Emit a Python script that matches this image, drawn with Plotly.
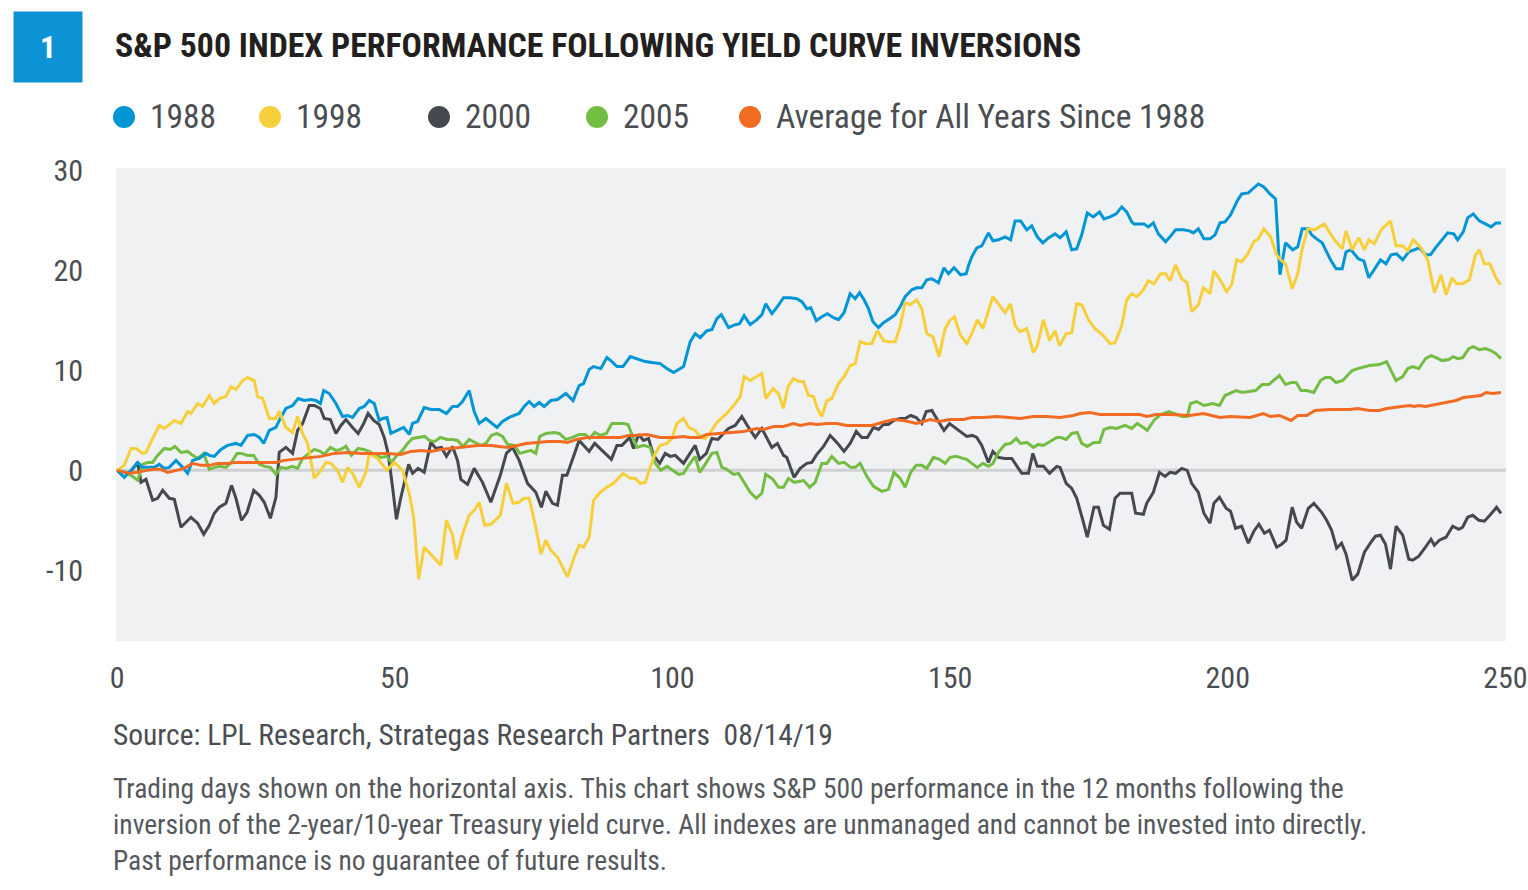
import plotly.graph_objects as go

# ---------------- data ----------------
days_1988 = [0,1.3,2.5,3.7,4.6,5.8,6.7,7.6,8.5,9.4,10.6,11.8,12.7,13.6,14.8,16.0,16.6,17.5,18.7,19.9,21.4,22.3,23.5,24.7,25.6,26.4,27.4,28.6,29.2,30.4,31.6,32.6,33.7,34.9,35.8,36.6,37.2,38.2,39.4,40.6,41.5,42.4,43.6,44.5,45.4,46.3,47.2,47.8,48.6,49.3,50.5,51.6,52.6,53.2,54.1,55.3,56.5,58.0,59.3,60.4,61.3,62.2,63.4,64.3,65.2,66.4,67.3,68.4,69.4,70.6,71.5,72.4,73.3,74.2,75.1,76.0,76.9,78.1,79.3,80.8,82.1,83.2,84.0,85.0,85.8,87.1,88.2,89.1,90.0,91.1,92.4,93.6,95.1,96.3,97.8,99.0,100.2,102.0,102.6,103.2,104.1,105.0,106.2,107.1,108.0,108.8,110.1,111.3,112.1,112.9,114.0,115.2,116.1,116.8,117.9,118.9,120.0,121.2,122.4,123.3,124.2,124.9,125.9,126.9,127.9,129.0,129.9,130.9,132.0,132.9,133.7,134.5,135.3,136.1,137.1,138.0,139.1,140.1,141.0,141.9,143.1,144.0,144.9,145.8,146.7,147.9,148.9,149.7,150.7,151.9,152.9,153.3,153.9,154.8,155.7,156.9,157.7,158.7,159.9,160.9,161.7,162.7,163.8,164.7,165.7,166.7,167.7,168.9,169.8,170.9,171.9,172.8,173.7,174.7,175.8,176.9,177.7,178.8,179.9,180.9,181.8,182.7,183.1,184.2,184.9,185.7,186.6,187.5,188.8,189.6,190.6,192.0,193.1,193.8,194.7,195.7,196.8,197.7,198.6,199.5,200.5,201.7,202.5,203.7,204.7,205.5,206.5,207.6,208.6,209.4,210.4,211.7,212.6,213.4,214.5,215.1,216.0,217.0,217.8,218.5,219.5,220.6,221.3,222.2,223.5,224.5,225.4,226.4,227.5,228.5,229.4,230.4,231.5,232.6,233.6,234.5,235.6,236.5,237.4,238.6,239.6,240.7,241.4,242.4,243.2,244.2,245.3,246.4,247.4,248.3,249.2]
vals_1988 = [0,-0.7,0,0.8,0.3,0.3,0.3,0.6,0.2,0.3,1.0,0.3,-0.3,1.0,1.2,1.7,1.5,1.4,2.1,2.5,2.7,2.5,3.5,3.6,3.3,2.7,4.0,4.3,5.0,6.2,6.5,7.2,7.0,7.1,7.0,6.7,8.0,7.7,6.7,5.4,5.5,5.3,6.2,6.4,7.0,6.7,5.0,5.2,5.3,3.7,4.0,4.3,3.6,4.7,4.9,6.3,6.1,6.1,5.7,6.4,6.4,6.9,8.0,5.9,4.7,5.2,4.8,4.3,4.9,5.3,5.5,5.7,6.4,6.9,6.4,6.8,6.4,7.0,7.1,7.7,7.0,8.5,8.7,10.1,10.4,10.2,11.3,10.9,10.4,10.4,11.4,11.2,10.9,10.8,10.7,10.2,9.8,10.4,11.7,12.9,13.7,13.3,14.0,14.1,15.2,15.6,14.3,14.6,14.7,15.5,14.6,15.1,15.6,16.7,15.7,16.4,17.3,17.3,17.2,16.9,16.2,16.3,15.0,15.4,15.7,15.3,15.1,15.8,17.7,17.2,17.8,17.1,16.2,14.9,14.3,14.8,15.2,15.6,16.4,17.4,18.1,18.3,18.3,19.1,19.2,18.8,20.3,19.7,20.3,19.6,19.7,20.5,21.4,22.3,22.5,23.8,23.0,23.1,23.4,23.1,25.0,25.0,24.1,24.5,23.4,22.8,23.3,23.7,23.3,23.9,22.1,22.2,23.6,25.8,25.4,25.9,25.2,25.4,25.7,26.4,25.9,24.9,24.7,24.7,24.7,24.4,24.8,23.7,22.9,23.4,24.1,24.1,24.0,23.8,24.2,23.2,23.2,23.6,24.8,24.9,25.6,27.0,27.7,27.8,28.3,28.7,28.4,27.7,27.2,19.6,22.8,22.1,22.4,24.2,24.2,23.6,23.2,22.8,21.9,21.1,20.2,20.2,21.9,22.1,21.2,21.0,19.3,20.1,21.1,20.7,21.6,21.7,21.1,21.9,22.1,22.3,21.6,21.6,22.3,23.1,23.8,23.7,23.1,23.9,25.3,25.7,25.0,24.7,24.4,24.8,24.8]

days_1998 = [0,1.3,2.5,3.4,4.6,5.2,6.4,7.6,8.5,10.3,11.5,12.7,13.3,14.5,15.4,16.6,17.5,18.4,19.6,20.5,21.4,22.6,23.5,24.7,25.3,26.2,27.4,28.6,29.2,30.4,31.6,32.5,33.4,34.3,35.5,36.7,37.6,38.5,39.7,40.6,41.5,42.4,43.6,44.8,45.4,46.9,48.6,49.9,51.4,52.6,53.4,54.3,55.3,56.5,58.3,59.3,60.4,61.1,62.2,63.4,64.3,65.2,66.2,67.3,69.0,70.1,71.3,72.4,73.2,74.2,75.4,76.3,77.2,78.1,79.3,81.1,82.3,83.2,84.0,85.0,85.8,87.0,88.2,89.4,90.3,91.1,92.4,93.3,94.2,95.1,96.0,96.9,97.8,99.0,99.9,100.8,102.0,102.9,104.1,105.0,105.9,106.8,108.0,109.8,111.3,112.2,112.9,114.0,116.1,116.8,118.1,119.1,120.0,120.8,121.8,122.7,123.6,124.5,125.4,126.1,126.9,127.8,128.7,129.9,130.9,132.0,132.9,133.8,134.7,135.9,136.9,138.0,138.9,140.1,141.0,141.9,142.8,144.0,144.9,145.8,146.9,148.0,149.1,149.9,150.8,151.8,153.0,153.9,154.9,155.9,157.7,158.7,159.9,160.9,161.7,162.6,163.8,165.0,165.7,166.8,167.9,168.9,169.7,170.9,171.9,172.8,173.7,174.9,176.1,177.6,178.8,179.7,180.9,181.8,182.7,183.6,184.8,185.7,186.7,187.9,188.8,189.6,190.6,191.7,192.7,193.5,194.7,195.6,196.8,197.5,198.5,199.8,200.7,201.6,202.5,203.5,204.7,205.5,206.5,207.7,208.8,209.5,210.4,211.6,212.6,213.4,214.4,215.6,217.4,218.6,219.5,220.6,221.3,222.4,223.6,224.6,225.4,226.4,227.6,229.3,230.3,231.5,232.4,233.4,234.8,236.0,237.2,238.4,239.3,240.4,241.2,242.3,243.5,244.6,245.3,246.2,247.2,248.2,249.1]
vals_1998 = [0,0.5,2.2,2.2,1.7,1.8,3.2,4.5,4.2,5.0,4.7,5.9,5.7,6.7,6.4,7.5,6.7,7.2,7.4,8.4,8.1,9.0,9.3,9.0,7.4,7.2,5.2,5.2,5.9,4.3,3.8,5.4,3.7,2.7,-0.8,0,0.8,0.7,0,-1.2,0.3,-0.3,-1.7,-0.2,1.7,1.2,0,0.8,0,-2.3,-4.7,-10.9,-7.7,-8.4,-9.5,-5.0,-6.5,-8.9,-6.4,-4.5,-4.0,-3.2,-5.5,-5.4,-4.5,-1.3,-3.3,-3.2,-2.8,-2.8,-5.7,-8.4,-7.0,-8.0,-8.7,-10.7,-8.7,-7.5,-7.7,-6.7,-3.0,-2.2,-1.7,-1.3,-0.8,-0.3,-0.8,-0.8,-1.3,-1.2,0.3,1.7,2.5,2.7,3.2,4.7,5.2,4.3,4.0,3.3,3.2,3.8,4.8,5.7,6.7,7.4,9.4,9.0,9.7,7.2,8.2,7.7,6.2,8.4,9.2,8.9,8.9,7.5,7.4,6.2,5.4,7.0,7.2,8.7,9.4,10.5,10.7,12.9,12.7,12.7,14.0,13.0,12.9,12.9,14.4,16.8,16.6,17.1,16.2,13.7,13.4,11.4,14.2,15.0,15.4,13.6,12.7,13.7,15.1,14.2,17.4,16.7,15.8,16.7,14.5,13.9,14.2,11.8,12.5,15.1,13.0,14.0,12.5,13.7,13.8,16.7,16.6,15.1,14.2,13.5,12.7,12.8,14.5,17.1,17.7,17.4,18.1,19.0,18.7,19.7,19.7,19.0,20.6,19.2,18.8,15.9,16.6,18.3,17.7,20.0,19.2,17.9,18.6,21.1,20.9,21.6,22.9,23.2,24.2,23.4,21.6,21.1,20.7,18.2,19.7,22.2,24.2,24.1,24.7,23.6,22.9,22.2,24.0,22.1,23.3,22.1,23.1,22.7,24.1,25.0,22.5,22.5,22.0,23.1,22.3,21.1,17.8,19.6,17.6,19.3,18.7,18.7,19.1,21.6,22.1,20.7,20.7,19.4,18.6]

days_2000 = [0,2.2,3.7,4.3,5.2,6.4,7.3,8.2,9.4,10.3,11.5,12.4,13.3,14.5,15.6,16.6,17.5,18.4,19.6,20.6,21.4,22.4,23.4,24.6,25.6,26.5,27.6,28.6,29.2,30.4,31.6,32.5,33.4,34.6,35.5,36.6,37.3,38.4,39.4,40.3,41.2,42.4,43.4,44.4,45.2,46.2,47.2,48.1,48.8,49.6,50.3,51.1,51.8,52.5,53.2,54.2,55.3,56.0,56.5,57.4,58.4,59.3,60.4,61.3,61.9,63.1,64.3,65.8,67.3,69.0,70.1,71.2,72.4,73.9,75.4,76.4,77.2,78.4,79.3,80.2,81.0,83.2,85.0,86.0,87.7,89.0,90.0,90.9,92.3,93.0,93.9,94.8,95.7,96.6,97.7,98.7,99.6,100.5,102.0,103.2,104.1,104.9,106.1,107.1,108.2,109.2,110.1,111.3,112.5,113.7,114.9,116.1,117.0,117.9,118.9,120.0,120.6,121.9,123.0,124.2,125.1,126.0,127.2,128.4,129.6,130.9,132.0,133.1,134.1,135.1,136.2,137.1,138.0,138.9,139.8,141.0,141.9,142.9,143.9,144.9,145.7,146.7,147.9,148.9,149.9,150.9,152.1,153.0,154.0,154.8,155.7,156.9,157.7,158.7,159.9,161.1,162.3,162.9,164.1,164.9,165.7,166.8,167.9,169.2,169.8,170.9,171.9,172.8,173.9,174.7,175.9,176.7,177.6,178.7,179.7,180.6,181.7,182.7,183.4,184.8,185.4,186.6,187.7,188.7,189.6,190.6,191.7,192.7,193.5,194.7,195.7,196.8,197.5,198.5,199.7,200.5,201.4,202.5,203.7,204.7,205.6,206.6,207.5,208.8,209.7,210.5,211.6,212.4,213.3,214.5,215.5,216.9,217.8,218.7,219.6,220.5,221.3,222.4,223.4,224.6,225.8,226.6,227.5,228.4,229.3,230.3,231.5,232.6,233.3,234.4,235.6,236.6,237.2,238.1,239.3,240.5,241.6,242.3,243.2,244.1,245.2,246.2,247.2,248.4,249.2]
vals_2000 = [0,-0.3,0.8,-1.2,-0.9,-3.0,-2.8,-2.0,-2.8,-2.9,-5.7,-5.2,-4.7,-5.3,-6.4,-5.5,-4.3,-3.7,-3.3,-1.5,-2.8,-5.0,-4.2,-2.0,-2.5,-3.2,-4.8,-2.7,1.8,2.3,1.7,4.0,4.7,6.5,6.5,6.2,5.2,5.1,3.7,4.5,5.1,4.3,3.7,4.7,5.7,5.0,4.6,3.3,1.7,-1.7,-4.9,-2.7,-1.0,0.6,-0.3,0.2,-0.2,1.7,2.8,2.2,2.3,1.4,2.4,1.0,-0.9,-1.4,0.2,-1.2,-3.2,-0.5,1.7,2.3,1.0,-1.3,-2.2,-3.7,-2.1,-3.3,-3.5,-0.5,-0.5,3.0,1.9,2.7,1.8,1.1,2.5,2.5,3.3,2.2,3.6,3.0,3.2,1.5,0.7,1.7,1.4,1.5,0.7,1.7,2.5,1.1,1.7,3.2,3.1,3.7,4.2,4.5,5.4,4.3,3.3,4.2,3.3,2.3,2.7,1.5,1.3,-0.7,0.2,0.7,0.8,1.6,2.4,3.5,2.8,1.9,2.7,3.9,3.3,3.3,4.3,4.1,4.6,4.6,5.0,5.2,5.2,5.5,5.3,4.7,5.9,6.0,4.9,4.0,4.7,4.3,3.8,3.4,3.5,3.3,2.5,0.8,1.9,1.3,1.2,1.2,0.2,-0.3,-0.3,1.7,0.4,0.4,-0.3,0.4,0.3,-1.3,-1.8,-2.8,-5.0,-6.7,-3.7,-3.7,-5.5,-5.9,-2.8,-2.3,-2.3,-2.3,-4.3,-4.4,-3.3,-2.2,-0.2,-0.6,-0.2,-0.3,0.2,0,-1.3,-2.2,-4.3,-5.3,-3.3,-2.7,-3.8,-4.1,-5.8,-5.6,-7.3,-6.1,-5.4,-6.3,-6.0,-7.7,-7.4,-7.0,-3.7,-5.2,-5.8,-3.8,-3.3,-4.2,-5.0,-6.0,-7.8,-7.3,-8.4,-11.0,-10.4,-8.2,-7.2,-6.6,-6.5,-7.4,-9.9,-5.6,-6.5,-8.9,-9.0,-8.6,-7.7,-6.9,-7.5,-7.0,-6.7,-5.6,-5.9,-5.7,-4.7,-4.5,-5.0,-5.1,-4.5,-3.7,-4.3]

days_2005 = [0,1.6,2.5,3.7,4.6,5.5,6.4,7.3,8.5,9.6,10.4,11.5,12.7,13.6,14.5,15.6,16.6,17.5,18.4,19.6,20.6,21.6,22.4,23.5,24.6,25.6,26.6,27.6,28.6,29.5,30.4,31.6,32.5,33.4,34.3,35.5,36.6,37.3,38.4,39.4,40.3,41.2,42.2,43.4,44.4,45.4,46.6,47.5,48.6,49.4,50.4,51.4,52.3,53.2,54.2,55.4,56.2,57.2,58.2,59.5,60.4,61.3,62.3,63.4,64.4,65.5,66.4,67.4,68.4,69.4,70.3,71.5,72.5,73.6,74.5,75.4,76.1,77.2,78.7,79.6,80.8,82.0,83.2,84.3,85.1,86.0,87.0,88.1,89.1,90.3,91.2,92.0,92.7,93.6,94.8,96.0,96.9,97.9,99.0,100.2,101.1,102.0,102.9,104.1,104.9,105.9,107.1,108.0,108.9,109.8,111.0,111.9,112.9,114.0,115.1,116.1,116.8,118.1,119.1,120.0,120.9,121.9,123.0,123.6,124.7,125.7,126.9,127.8,128.7,129.9,130.9,132.1,132.9,133.8,135.0,136.2,137.7,138.9,139.9,141.0,141.9,142.9,143.9,144.9,145.8,147.0,148.1,149.1,150.0,151.1,152.3,153.0,153.9,154.9,155.9,156.9,157.7,158.7,159.9,160.9,161.9,162.7,163.8,165.0,165.9,166.8,168.0,169.2,169.9,170.9,171.9,172.9,173.7,174.7,175.9,176.9,177.7,178.8,180.0,181.5,182.7,183.7,184.8,185.5,186.7,187.9,189.4,190.7,191.8,192.7,193.3,194.4,195.7,197.3,198.5,199.5,200.4,201.5,202.6,203.8,205.0,206.2,207.4,208.2,209.3,210.4,211.4,212.3,213.2,214.2,215.5,216.7,217.6,218.5,219.5,220.7,222.4,223.4,225.5,227.3,228.6,229.4,230.3,231.5,232.4,233.3,234.4,235.6,236.6,237.5,238.6,239.8,240.6,241.4,242.3,243.4,244.2,245.3,246.4,247.4,248.3,249.2]
vals_2005 = [0,-0.2,-0.5,-1.0,0.6,0.8,0.8,1.5,2.2,2.1,2.4,1.8,1.9,1.5,1.2,1.7,0.1,0.3,0.4,0.3,0.8,1.7,1.7,1.5,1.5,0.6,0.4,0.3,-0.4,0.3,0.2,0.4,0.2,1.2,1.6,2.1,1.9,1.6,2.3,2.0,2.1,2.4,1.5,2.2,2.1,1.9,1.5,1.3,1.4,0.8,1.5,2.0,2.7,3.2,3.3,3.4,3.0,2.9,3.3,3.1,3.1,3.0,2.4,3.1,2.8,2.5,2.7,3.5,3.7,3.4,2.6,2.5,1.7,1.9,2.0,1.7,3.4,3.7,3.8,3.7,3.1,3.3,3.6,3.6,3.2,3.8,3.5,3.7,4.7,4.7,4.7,4.6,3.5,2.3,2.5,2.3,0.7,0,0.4,-0.1,-0.4,-0.3,0.5,1.4,-0.2,0.6,1.7,1.8,0.3,0.1,-0.4,-0.3,-1.2,-2.2,-2.8,-2.3,-0.4,-0.9,-1.7,-1.7,-0.8,-1.2,-1.1,-1.0,-1.7,-1.2,0.7,0.7,1.4,0.7,0.8,0.3,0.3,0.7,-0.6,-1.6,-2.1,-1.9,-0.2,-0.8,-1.7,-0.2,0.5,0.5,0.2,1.3,1.1,0.7,1.3,1.4,1.2,1.1,0.7,0.3,0.7,0.4,0.7,1.8,2.6,2.7,3.2,2.7,2.8,2.3,2.6,2.5,2.9,3.3,3.3,3.1,3.7,3.8,2.7,2.4,2.8,2.8,4.1,4.3,4.2,4.5,4.2,4.7,4.3,4.0,5.0,5.6,5.9,5.6,5.4,5.4,6.7,6.9,6.5,6.7,6.5,7.5,7.7,8.0,7.8,7.9,8.0,8.6,8.6,9.0,9.5,8.6,8.8,8.8,8.0,8.0,7.8,9.0,9.3,9.3,8.8,9.0,10.0,10.2,10.5,10.6,10.9,10.0,9.0,9.4,10.2,10.4,10.2,11.2,11.5,11.3,11.0,11.1,11.4,11.2,11.3,12.2,12.4,12.1,12.2,12.0,11.7,11.2]

days_avg = [0,2.2,3.7,5.2,6.7,7.9,9.1,10.6,12.1,13.6,15.1,16.6,18.1,19.9,21.4,22.9,24.7,26.5,28.6,30.1,31.9,34.3,36.7,39.1,41.5,43.9,46.3,48.7,51.1,52.9,54.7,56.5,58.3,60.1,62.5,64.9,67.3,69.0,70.3,72.1,73.6,75.7,77.5,79.8,81.1,82.8,84.6,86.4,88.8,90.6,92.1,93.0,95.4,97.8,100.2,102.0,103.2,105.0,106.2,108.0,110.4,112.8,115.2,116.4,118.2,120.0,121.8,123.0,124.8,126.0,127.8,129.6,131.4,133.2,135.9,137.7,139.8,141.6,144.0,146.4,148.1,149.9,152.4,153.9,156.0,158.4,160.8,162.6,165.0,167.4,169.8,172.2,173.4,175.2,177.0,179.4,181.8,184.2,185.4,187.2,189.6,193.2,195.6,198.6,200.4,204.0,206.4,207.6,209.3,211.4,212.6,214.2,215.7,218.3,221.9,223.4,225.5,227.3,228.6,230.8,232.7,233.6,234.4,235.6,237.5,239.3,241.1,242.4,244.1,245.6,246.5,247.7,249.2]
vals_avg = [0,-0.3,-0.2,0,0.1,0.1,-0.2,0,0.2,0.7,0.5,0.5,0.7,0.7,0.8,0.8,0.8,0.8,0.8,1.0,1.1,1.3,1.4,1.7,1.8,1.7,1.7,1.7,1.6,1.9,2.0,1.9,2.1,2.2,2.3,2.5,2.5,2.4,2.3,2.5,2.7,2.8,2.9,2.9,2.8,3.1,3.3,3.3,3.3,3.3,3.5,3.5,3.6,3.3,3.3,3.4,3.3,3.3,3.6,3.7,3.8,3.9,4.2,4.1,4.4,4.4,4.7,4.5,4.7,4.6,4.7,4.7,4.5,4.5,4.5,4.8,5.1,5.0,4.7,5.1,4.9,5.1,5.1,5.3,5.3,5.4,5.3,5.2,5.4,5.4,5.3,5.5,5.7,5.8,5.6,5.6,5.6,5.6,5.4,5.6,5.6,5.5,5.7,5.3,5.4,5.3,5.7,5.4,5.5,5.0,5.5,5.5,6.0,6.1,6.1,6.2,6.0,6.0,6.2,6.4,6.5,6.4,6.5,6.4,6.6,6.8,7.0,7.3,7.4,7.5,7.8,7.7,7.8]

series_names = ["1988", "1998", "2000", "2005", "Average for All Years Since 1988"]
series_colors = ["#0096d6", "#f7cf3b", "#45494f", "#74bd43", "#f26b22"]
series_days = [days_1988, days_1998, days_2000, days_2005, days_avg]
series_vals = [vals_1988, vals_1998, vals_2000, vals_2005, vals_avg]

x_ticks = [0, 50, 100, 150, 200, 250]
y_ticks = [-10, 0, 10, 20, 30]
y_tick_text = ["-10", "0", "10", "20", "30"]

title_text = "S&P 500 INDEX PERFORMANCE FOLLOWING YIELD CURVE INVERSIONS"
source_text = "Source: LPL Research, Strategas Research Partners&nbsp;&nbsp;08/14/19"
note_lines = [
    "Trading days shown on the horizontal axis. This chart shows S&P 500 performance in the 12 months following the",
    "inversion of the 2-year/10-year Treasury yield curve. All indexes are unmanaged and cannot be invested into directly.",
    "Past performance is no guarantee of future results.",
]

# ---------------- layout geometry ----------------
W, H = 1528, 890
PL, PR, PT, PB = 116, 1506, 168, 641   # plot area in pixels
COND = "Roboto Condensed, Open Sans Condensed, sans-serif"
TXT = "#4a4d52"


def px(x):
    return (x - PL) / (PR - PL)


def py(y):
    return (PB - y) / (PB - PT)


fig = go.Figure()

draw_order = [2, 3, 0, 1, 4]
for i in draw_order:
    fig.add_trace(go.Scatter(
        x=series_days[i], y=series_vals[i], mode="lines", name=series_names[i],
        line=dict(color=series_colors[i], width=3), showlegend=False,
        hoverinfo="x+y+name",
    ))

annotations = []
shapes = []

# zero line
shapes.append(dict(type="line", xref="x domain", yref="y", x0=0, x1=1, y0=0, y1=0,
                   line=dict(color="#cfd0d2", width=3), layer="below"))

# number box
annotations.append(dict(xref="paper", yref="paper", x=px(48), y=py(47.5), text="<b>1</b>",
                        showarrow=False, xanchor="center", yanchor="middle",
                        width=68, height=70, bgcolor="#0b93d5", borderpad=0,
                        font=dict(family=COND, size=32, color="white")))
# title
annotations.append(dict(xref="paper", yref="paper", x=px(113), y=py(46), text="<b>" + title_text.replace("&", "&amp;") + "</b>",
                        showarrow=False, xanchor="left", yanchor="middle",
                        font=dict(family=COND, size=33.8, color="#231f20")))

# legend (circles + labels)
legend_x = [124, 270, 439, 597, 750]
for i, name in enumerate(series_names):
    cx = legend_x[i]
    cy = 117
    r = 11
    shapes.append(dict(type="circle", xref="paper", yref="paper",
                       xsizemode="pixel", ysizemode="pixel",
                       xanchor=px(cx), yanchor=py(cy),
                       x0=-r, x1=r, y0=-r, y1=r,
                       fillcolor=series_colors[i], line=dict(width=0)))
    annotations.append(dict(xref="paper", yref="paper", x=px(cx + 24), y=py(cy), text=name,
                            showarrow=False, xanchor="left", yanchor="middle",
                            font=dict(family=COND, size=33.5, color=TXT)))

# footer
annotations.append(dict(xref="paper", yref="paper", x=px(111), y=py(735), text=source_text,
                        showarrow=False, xanchor="left", yanchor="middle",
                        font=dict(family=COND, size=29.5, color=TXT)))
for k, line in enumerate(note_lines):
    annotations.append(dict(xref="paper", yref="paper", x=px(111), y=py(788 + 36 * k), text=line.replace("&", "&amp;"),
                            showarrow=False, xanchor="left", yanchor="middle",
                            font=dict(family=COND, size=27.5, color="#55585d")))

fig.update_layout(
    width=W, height=H,
    margin=dict(l=PL, r=W - PR, t=PT, b=H - PB, pad=0, autoexpand=False),
    paper_bgcolor="white",
    plot_bgcolor="#f0f1f3",
    shapes=shapes,
    annotations=annotations,
    xaxis=dict(range=[-0.2, 250.1], tickvals=x_ticks, showgrid=False, zeroline=False, automargin=False,
               showline=False, ticks="", tickfont=dict(family=COND, size=30, color=TXT),
               ticklabelstandoff=16, fixedrange=True),
    yaxis=dict(range=[-17.1, 30.3], tickvals=y_ticks, ticktext=y_tick_text, showgrid=False, zeroline=False,
               automargin=False,
               showline=False, ticks="", tickfont=dict(family=COND, size=30, color=TXT),
               ticklabelstandoff=32, fixedrange=True),
)

# remove the browser's default page margin so the figure sits at the window origin
fig.write_html(
    "out.html",
    config={"displayModeBar": False},
    post_script="document.body.style.margin='0';document.body.style.overflow='hidden';",
)
